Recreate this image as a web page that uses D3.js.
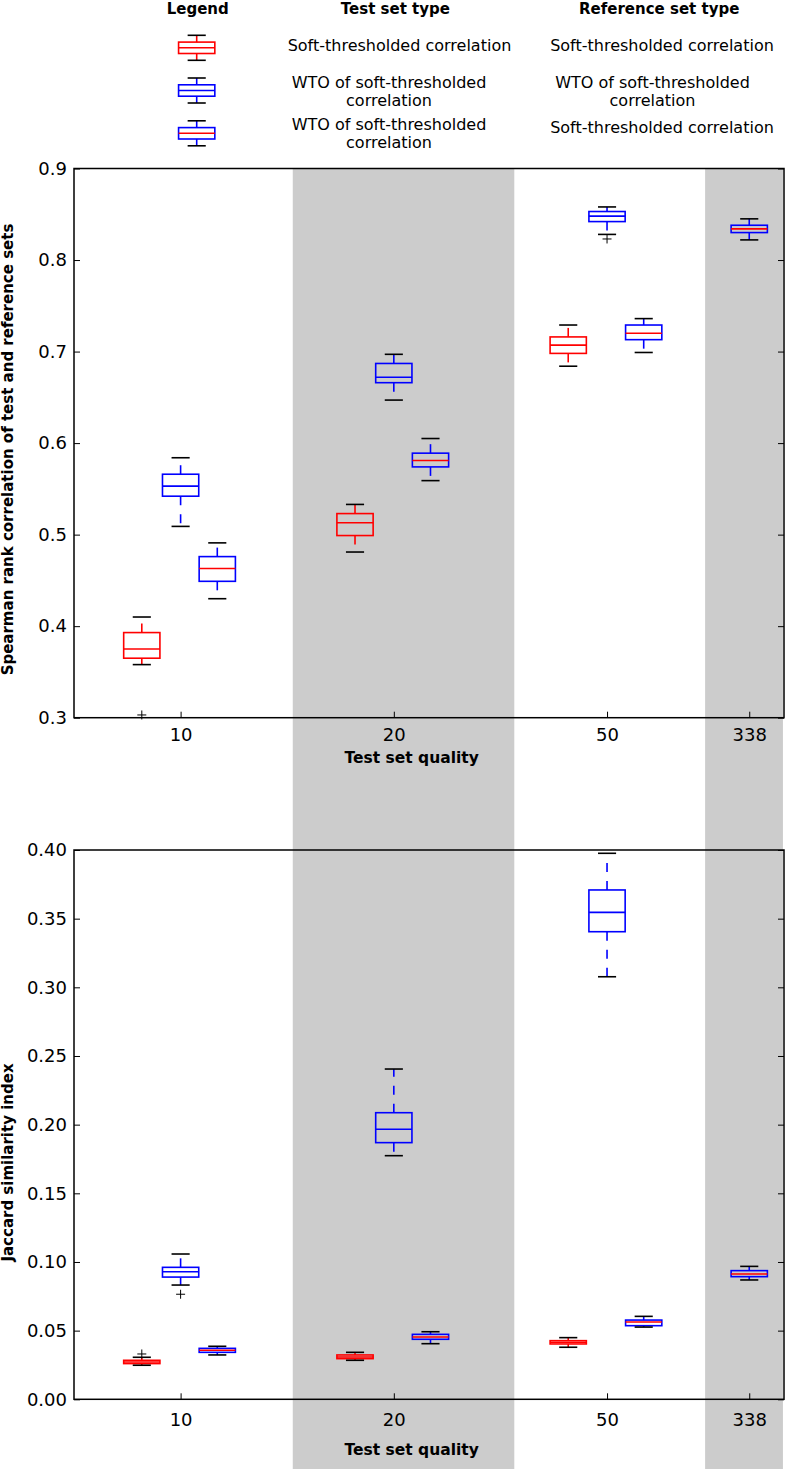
<!DOCTYPE html>
<html>
<head>
<meta charset="utf-8">
<script src="https://cdn.jsdelivr.net/npm/d3@7/dist/d3.min.js"></script>
<style>
  body { margin: 0; background: #fff; }
  svg { display: block; font-family: "DejaVu Sans", sans-serif; }
</style>
</head>
<body>
<div id="chart"></div>
<script>

// DATA
var qualityLabels = ["10", "20", "50", "338"];
var qualityPos = [1, 2, 3, 3.667];            // boxplot positions of the groups
var shadeBands = [[1.526, 2.565], [3.46, 3.825]];

// box stats per group: [low whisker, Q1, median, Q3, high whisker], null = no box
var spearmanSoftSoft = [[0.358, 0.365, 0.375, 0.393, 0.410], [0.481, 0.499, 0.513, 0.523, 0.533], [0.684, 0.698, 0.707, 0.716, 0.729], null];
var spearmanWtoWto   = [[0.509, 0.542, 0.553, 0.566, 0.584], [0.647, 0.666, 0.672, 0.687, 0.697], [0.828, 0.842, 0.848, 0.853, 0.858], null];
var spearmanWtoSoft  = [[0.430, 0.449, 0.463, 0.476, 0.491], [0.559, 0.574, 0.581, 0.589, 0.605], [0.699, 0.713, 0.720, 0.729, 0.736], [0.822, 0.830, 0.834, 0.838, 0.845]];
var spearmanOutliers = [[[0.303], [], [], []], [[], [], [0.823], []], [[], [], [], []]];

var jaccardSoftSoft = [[0.0248, 0.0260, 0.0272, 0.0284, 0.0306], [0.0284, 0.0296, 0.0308, 0.0323, 0.0342], [0.0379, 0.0403, 0.0415, 0.0427, 0.0449], null];
var jaccardWtoWto   = [[0.0832, 0.0890, 0.0929, 0.0961, 0.1058], [0.1774, 0.1869, 0.1966, 0.2087, 0.2405], [0.3077, 0.3405, 0.3546, 0.3709, 0.3976], null];
var jaccardWtoSoft  = [[0.0323, 0.0342, 0.0357, 0.0371, 0.0386], [0.0405, 0.0437, 0.0454, 0.0473, 0.0492], [0.0526, 0.0536, 0.0563, 0.0577, 0.0604], [0.0869, 0.0893, 0.0912, 0.0937, 0.0968]];
var jaccardOutliers = [[[0.033], [], [], []], [[0.0765], [], [], []], [[], [], [], []]];

var spearmanTicks = [0.3, 0.4, 0.5, 0.6, 0.7, 0.8, 0.9];
var jaccardTicks = [0, 0.05, 0.10, 0.15, 0.20, 0.25, 0.30, 0.35, 0.40];

var legendTest = [["Soft-thresholded correlation"], ["WTO of soft-thresholded", "correlation"], ["WTO of soft-thresholded", "correlation"]];
var legendRef  = [["Soft-thresholded correlation"], ["WTO of soft-thresholded", "correlation"], ["Soft-thresholded correlation"]];

// GLOBALS
var width = 786;
var height = 1469;
var plot_left = 74;
var plot_right = 784;
var box_w = 0.17;                        // box width in x units
var type_offset = [-0.182, 0, 0.172];    // shift of each box type inside a group
var box_color = ["red", "blue", "blue"];
var median_color = ["red", "blue", "red"];
var shade = "#cccccc";
var lw = 1.6;

var svg = d3.select("#chart").append("svg")
  .attr("width", width)
  .attr("height", height);

var x = d3.scaleLinear().domain([0.5, 3.83]).range([plot_left, plot_right]);
var half = (x(box_w) - x(0)) / 2;

/* grey bands behind both panels */
svg.selectAll("rect.band")
  .data(shadeBands)
  .enter()
  .append("rect")
  .attr("class", "band")
  .attr("x", function(d) { return x(d[0]); })
  .attr("width", function(d) { return x(d[1]) - x(d[0]); })
  .attr("y", 168.5)
  .attr("height", height - 168.5)
  .attr("fill", shade);

/* one box glyph, all values already in pixels */
function drawBox(g, cx, ys, t) {
  var lo = ys[0], q1 = ys[1], med = ys[2], q3 = ys[3], hi = ys[4];
  g.append("rect")
    .attr("x", cx - half).attr("y", q3)
    .attr("width", 2 * half).attr("height", Math.max(q1 - q3, 0.5))
    .attr("fill", "none").attr("stroke", box_color[t]).attr("stroke-width", lw);
  g.append("line")
    .attr("x1", cx - half).attr("x2", cx + half).attr("y1", med).attr("y2", med)
    .attr("stroke", median_color[t]).attr("stroke-width", lw);
  [[q3, hi], [q1, lo]].forEach(function(w) {
    g.append("line")
      .attr("x1", cx).attr("x2", cx).attr("y1", w[0]).attr("y2", w[1])
      .attr("stroke", box_color[t]).attr("stroke-width", lw)
      .attr("stroke-dasharray", "9,9");
  });
  [lo, hi].forEach(function(c) {
    g.append("line")
      .attr("x1", cx - half / 2).attr("x2", cx + half / 2).attr("y1", c).attr("y2", c)
      .attr("stroke", "black").attr("stroke-width", lw);
  });
}

function drawPanel(p) {
  var y = d3.scaleLinear().domain(p.domain).range([p.bottom, p.top]);
  var g = svg.append("g");

  p.series.forEach(function(series, t) {
    series.forEach(function(st, i) {
      if (!st) return;
      var n = p.series.filter(function(s) { return s[i]; }).length;
      var pos = qualityPos[i] + (n > 1 ? type_offset[t] : 0);
      drawBox(g, x(pos), st.map(y), t);
      p.outliers[t][i].forEach(function(v) {
        g.append("path")
          .attr("d", "M" + (x(pos) - 4.5) + "," + y(v) + "H" + (x(pos) + 4.5) +
                     "M" + x(pos) + "," + (y(v) - 4.5) + "V" + (y(v) + 4.5))
          .attr("stroke", "black").attr("stroke-width", 1).attr("fill", "none");
      });
    });
  });

  // frame
  g.append("rect")
    .attr("x", plot_left).attr("y", p.top)
    .attr("width", plot_right - plot_left).attr("height", p.bottom - p.top)
    .attr("fill", "none").attr("stroke", "black").attr("stroke-width", 1.5);

  var yl = g.append("g").attr("transform", "translate(" + plot_left + ",0)")
    .call(d3.axisLeft(y).tickValues(p.ticks).tickFormat(d3.format(p.fmt))
      .tickSizeInner(-6).tickSizeOuter(0).tickPadding(7));
  var yr = g.append("g").attr("transform", "translate(" + plot_right + ",0)")
    .call(d3.axisRight(y).tickValues(p.ticks).tickFormat("")
      .tickSizeInner(-6).tickSizeOuter(0));
  var xb = g.append("g").attr("transform", "translate(0," + p.bottom + ")")
    .call(d3.axisBottom(x).tickValues(qualityPos)
      .tickFormat(function(d, i) { return qualityLabels[i]; })
      .tickSizeInner(-6).tickSizeOuter(0).tickPadding(p.xpad));

  [yl, yr, xb].forEach(function(a) {
    a.select(".domain").remove();
    a.selectAll("line").attr("stroke", "black").attr("stroke-width", 1);
    a.selectAll("text").attr("font-size", 18).attr("fill", "black")
      .attr("font-family", "DejaVu Sans");
  });

  g.append("text")
    .attr("x", 411.7).attr("y", p.xTitleY)
    .attr("text-anchor", "middle")
    .attr("font-size", 15.5).attr("font-weight", "bold")
    .text("Test set quality");

  g.append("text")
    .attr("transform", "translate(13," + p.yTitleY + ") rotate(-90)")
    .attr("text-anchor", "middle")
    .attr("font-size", 15).attr("font-weight", "bold")
    .text(p.label);
}

drawPanel({
  top: 168.5, bottom: 717.7, domain: [0.3, 0.9],
  ticks: spearmanTicks, fmt: ".1f", xpad: 11,
  series: [spearmanSoftSoft, spearmanWtoWto, spearmanWtoSoft],
  outliers: spearmanOutliers,
  label: "Spearman rank correlation of test and reference sets",
  yTitleY: 449.5, xTitleY: 763
});

drawPanel({
  top: 850, bottom: 1399.3, domain: [0, 0.4],
  ticks: jaccardTicks, fmt: ".2f", xpad: 14,
  series: [jaccardSoftSoft, jaccardWtoWto, jaccardWtoSoft],
  outliers: jaccardOutliers,
  label: "Jaccard similarity index",
  yTitleY: 1162.5, xTitleY: 1455
});

/************************************************************************************************

							LEGEND

************************************************************************************************/

var leg = svg.append("g");
var headers = [["Legend", 197.7], ["Test set type", 395.4], ["Reference set type", 659.2]];
leg.selectAll("text.head")
  .data(headers)
  .enter()
  .append("text")
  .attr("class", "head")
  .attr("x", function(d) { return d[1]; })
  .attr("y", 14)
  .attr("text-anchor", "middle")
  .attr("font-size", 15).attr("font-weight", "bold")
  .text(function(d) { return d[0]; });

var row_y = [47.8, 90.5, 133.3];
row_y.forEach(function(cy, t) {
  drawBox(leg, 196.7, [cy + 12.5, cy + 5.7, cy, cy - 5.7, cy - 12.5], t);
});

var test_x = [399.5, 389, 389];
var ref_x = [662, 652.5, 662];
var test_base = [[51], [88, 106], [130, 148]];
var ref_base = [[51], [88, 106], [133]];

legendTest.forEach(function(lines, r) {
  lines.forEach(function(s, k) {
    leg.append("text").attr("x", test_x[r]).attr("y", test_base[r][k])
      .attr("text-anchor", "middle").attr("font-size", 16).text(s);
  });
});
legendRef.forEach(function(lines, r) {
  lines.forEach(function(s, k) {
    leg.append("text").attr("x", ref_x[r]).attr("y", ref_base[r][k])
      .attr("text-anchor", "middle").attr("font-size", 16).text(s);
  });
});

</script>
</body>
</html>
